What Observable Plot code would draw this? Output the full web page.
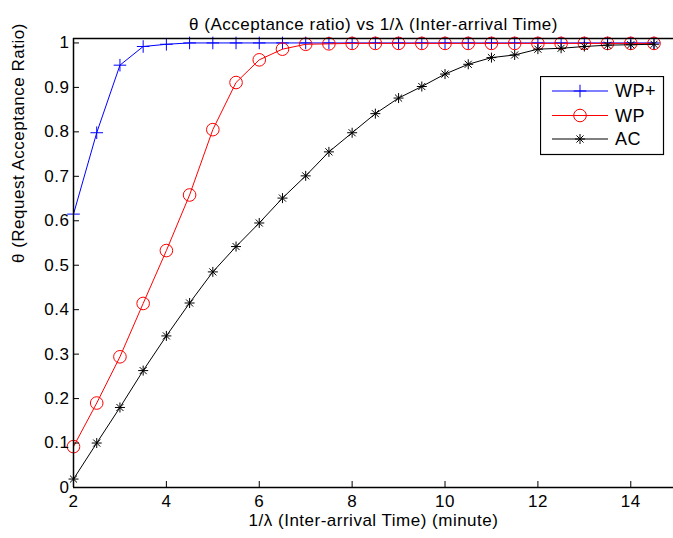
<!DOCTYPE html>
<html>
<head>
<meta charset="utf-8">
<script src="https://cdn.jsdelivr.net/npm/d3@7"></script>
<script src="https://cdn.jsdelivr.net/npm/@observablehq/plot@0.6"></script>
<style>
  html, body { margin: 0; padding: 0; background: #fff; }
  #wrap { position: relative; width: 673px; height: 538px; overflow: hidden; font-family: "Liberation Sans", Arial, sans-serif; }
  #wrap svg text { letter-spacing: 0.5px; }
  #legend { position: absolute; left: 540px; top: 76px; }
</style>
</head>
<body>
<div id="wrap"></div>
<script>
// ---- data ----
const interArrival = [2, 2.5, 3, 3.5, 4, 4.5, 5, 5.5, 6, 6.5, 7, 7.5, 8, 8.5, 9, 9.5, 10, 10.5, 11, 11.5, 12, 12.5, 13, 13.5, 14, 14.5];
const wpPlus = [0.615, 0.798, 0.950, 0.992, 0.997, 1.0, 1.0, 1.0, 1.0, 1.0, 1.0, 1.0, 1.0, 1.0, 1.0, 1.0, 1.0, 1.0, 1.0, 1.0, 1.0, 1.0, 1.0, 1.0, 1.0, 1.0];
const wp = [0.092, 0.190, 0.294, 0.414, 0.533, 0.658, 0.805, 0.911, 0.962, 0.986, 0.997, 0.998, 0.999, 0.999, 0.999, 0.999, 0.999, 0.999, 0.999, 0.999, 0.999, 0.999, 0.999, 0.999, 0.999, 0.999];
const ac = [0.019, 0.100, 0.180, 0.263, 0.341, 0.415, 0.485, 0.542, 0.595, 0.651, 0.701, 0.755, 0.798, 0.841, 0.876, 0.902, 0.930, 0.952, 0.967, 0.973, 0.986, 0.988, 0.992, 0.995, 0.996, 0.997];
const seriesNames = ["WP+", "WP", "AC"];
const seriesColors = ["#0000ff", "#ff0000", "#000000"];
const xTicks = [2, 4, 6, 8, 10, 12, 14];
const yTicks = [0, 0.1, 0.2, 0.3, 0.4, 0.5, 0.6, 0.7, 0.8, 0.9, 1];
const titleText = "θ (Acceptance ratio) vs 1/λ (Inter-arrival Time)";
const xLabelText = "1/λ (Inter-arrival Time) (minute)";
const yLabelText = "θ (Request Acceptance Ratio)";

// ---- marker symbols (MATLAB style) ----
const plusSym = { draw(ctx, size) { const r = Math.sqrt(size / Math.PI);
  ctx.moveTo(-r, 0); ctx.lineTo(r, 0); ctx.moveTo(0, -r); ctx.lineTo(0, r); } };
const circleSym = { draw(ctx, size) { const r = Math.sqrt(size / Math.PI);
  ctx.moveTo(r, 0); ctx.arc(0, 0, r, 0, 2 * Math.PI); } };
const starSym = { draw(ctx, size) { const r = Math.sqrt(size / Math.PI); const d = r * Math.SQRT1_2;
  ctx.moveTo(-r, 0); ctx.lineTo(r, 0); ctx.moveTo(0, -r); ctx.lineTo(0, r);
  ctx.moveTo(-d, -d); ctx.lineTo(d, d); ctx.moveTo(-d, d); ctx.lineTo(d, -d); } };
const symbols = [plusSym, circleSym, starSym];
const radii = [6.3, 6.3, 5];

const seriesValues = [wpPlus, wp, ac];
const rows = seriesNames.flatMap((name, i) => interArrival.map((x, j) => ({ series: name, x, y: seriesValues[i][j] })));

const width = 673, height = 538;
const marginLeft = 73, marginRight = 0, marginTop = 38, marginBottom = 51;
const plotW = width - marginLeft - marginRight;
const plotH = height - marginTop - marginBottom;
const font = "Liberation Sans, Arial, sans-serif";

const marks = [];
seriesNames.forEach((name, i) => {
  const d = rows.filter(r => r.series === name);
  marks.push(Plot.line(d, { x: "x", y: "y", stroke: seriesColors[i], strokeWidth: 1 }));
  marks.push(Plot.dot(d, { x: "x", y: "y", symbol: symbols[i], r: radii[i], stroke: seriesColors[i], fill: "none", strokeWidth: 1 }));
});

const chart = Plot.plot({
  width, height, marginLeft, marginRight, marginTop, marginBottom,
  style: { fontFamily: font, fontSize: "17px", background: "white", color: "black" },
  x: { domain: [2, 14.92] },
  y: { domain: [0, 1.01] },
  marks: [
    ...marks,
    // frame lines
    Plot.ruleY([0], { stroke: "black", strokeWidth: 1.5 }),
    Plot.ruleY([1.01], { stroke: "black", strokeWidth: 1.5 }),
    Plot.ruleX([2], { stroke: "black", strokeWidth: 1.5 }),
    // inward ticks
    Plot.ruleX(xTicks, { insetTop: plotH - 6, stroke: "black", strokeWidth: 1 }),
    Plot.ruleY(yTicks, { insetRight: plotW - 6, stroke: "black", strokeWidth: 1 }),
    Plot.axisX(xTicks, { tickSize: 0, tickPadding: 7, label: null, fontSize: 17, tickFormat: d => String(d) }),
    Plot.axisY(yTicks, { tickSize: 0, tickPadding: 4, label: null, fontSize: 17, tickFormat: d => String(d) }),
    Plot.text([titleText], { frameAnchor: "top", dy: -21, fontSize: 17, fill: "black" }),
    Plot.text([xLabelText], { frameAnchor: "bottom", dy: 38, fontSize: 17, fill: "black" }),
    Plot.text([yLabelText], { frameAnchor: "left", dx: -55, rotate: -90, fontSize: 17, fill: "black" })
  ]
});
const wrap = document.getElementById("wrap");
wrap.appendChild(chart);

// ---- legend ----
const lw = 124, lh = 79;
const legend = d3.create("svg").attr("id", "legend").attr("width", lw + 1).attr("height", lh + 1)
  .style("font-family", font);
legend.append("rect").attr("x", 0.5).attr("y", 0.5).attr("width", lw - 1).attr("height", lh - 1)
  .attr("fill", "white").attr("stroke", "black").attr("stroke-width", 1.2);
const rowYs = [15, 39.5, 63];
seriesNames.forEach((name, i) => {
  const g = legend.append("g").attr("transform", `translate(0,${rowYs[i]})`);
  g.append("line").attr("x1", 12).attr("x2", 68).attr("y1", 0).attr("y2", 0)
    .attr("stroke", seriesColors[i]).attr("stroke-width", 1);
  g.append("path").attr("transform", "translate(40,0)")
    .attr("d", d3.symbol(symbols[i], Math.PI * radii[i] * radii[i])())
    .attr("stroke", seriesColors[i]).attr("fill", "none").attr("stroke-width", 1);
  g.append("text").attr("x", 75).attr("y", 0).attr("dy", "0.36em").attr("font-size", 18)
    .attr("fill", "black").text(name);
});
wrap.appendChild(legend.node());
</script>
</body>
</html>
